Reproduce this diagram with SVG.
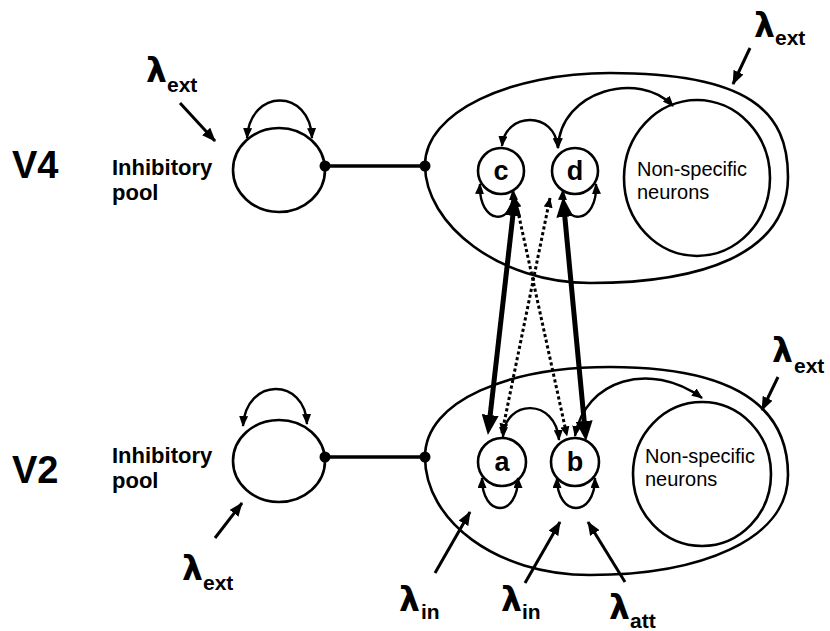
<svg xmlns="http://www.w3.org/2000/svg" width="830" height="631" viewBox="0 0 830 631">
  <defs>
    <style>
      .outline { fill: none; stroke: #000; stroke-width: 2.6; }
      .thin { fill: none; stroke: #000; stroke-width: 2.4; marker-start: url(#ah); marker-end: url(#ah); }
      .thick { fill: none; stroke: #000; stroke-width: 5; marker-start: url(#ahBig); marker-end: url(#ahBig); }
      .dotted { fill: none; stroke: #000; stroke-width: 3; stroke-dasharray: 3.2 2.6; marker-start: url(#ahDot); marker-end: url(#ahDot); }
      .input { fill: none; stroke: #000; stroke-width: 3; marker-end: url(#ahIn); }
      .link { fill: none; stroke: #000; stroke-width: 3.6; }
      .area { font-family: "Liberation Sans", Arial, sans-serif; font-weight: bold; font-size: 38px; }
      .pool { font-family: "Liberation Sans", Arial, sans-serif; font-weight: bold; font-size: 22px; }
      .unit { font-family: "Liberation Sans", Arial, sans-serif; font-weight: bold; font-size: 27px; text-anchor: middle; }
      .ns { font-family: "Liberation Sans", Arial, sans-serif; font-size: 20px; }
      .lam { font-family: "DejaVu Sans", "Liberation Sans", sans-serif; font-weight: bold; font-size: 33px; }
      .sub { font-family: "Liberation Sans", Arial, sans-serif; font-weight: bold; font-size: 21px; }
    </style>
    <marker id="ah" markerUnits="userSpaceOnUse" markerWidth="11" markerHeight="9" refX="10" refY="4.5" orient="auto-start-reverse">
      <path d="M0,0 L11,4.5 L0,9 z" fill="#000"/>
    </marker>
    <marker id="ahBig" markerUnits="userSpaceOnUse" markerWidth="20" markerHeight="17" refX="13" refY="8.5" orient="auto-start-reverse">
      <path d="M0,0 L20,8.5 L0,17 z" fill="#000"/>
    </marker>
    <marker id="ahDot" markerUnits="userSpaceOnUse" markerWidth="10" markerHeight="9" refX="9.5" refY="4.5" orient="auto-start-reverse">
      <path d="M0,0 L10,4.5 L0,9 z" fill="#000"/>
    </marker>
    <marker id="ahIn" markerUnits="userSpaceOnUse" markerWidth="14" markerHeight="11" refX="13" refY="5.5" orient="auto">
      <path d="M0,0 L14,5.5 L0,11 z" fill="#000"/>
    </marker>
  </defs>
  <rect width="830" height="631" fill="#fff"/>

  <!-- area labels -->
  <text class="area" x="12" y="178">V4</text>
  <text class="area" x="12" y="483">V2</text>

  <!-- V4 inhibitory pool -->
  <g id="pool-v4">
    <ellipse class="outline" cx="279" cy="170" rx="46" ry="42"/>
    <text class="pool" x="112" y="175">Inhibitory</text>
    <text class="pool" x="112" y="200">pool</text>
  </g>

  <!-- V2 inhibitory pool -->
  <g id="pool-v2">
    <ellipse class="outline" cx="279" cy="461" rx="46" ry="41"/>
    <text class="pool" x="112" y="463">Inhibitory</text>
    <text class="pool" x="112" y="488">pool</text>
  </g>

  <!-- V4 excitatory area -->
  <g id="area-v4">
    <path class="outline" d="M425,165 C425,112 510,73 610,73 C750,73 788,112 788,177 C788,255 700,283 590,283 C500,283 425,225 425,165 Z"/>
  </g>
  <g id="nonspecific-v4">
    <ellipse class="outline" cx="697" cy="178" rx="73" ry="78"/>
    <text class="ns" x="637" y="176">Non-specific</text>
    <text class="ns" x="637" y="199">neurons</text>
  </g>
  <g id="pool-c">
    <circle class="outline" cx="501" cy="171" r="23"/>
    <text class="unit" x="501" y="180">c</text>
  </g>
  <g id="pool-d">
    <circle class="outline" cx="575" cy="171" r="23"/>
    <text class="unit" x="575" y="180">d</text>
  </g>

  <!-- V2 excitatory area -->
  <g id="area-v2">
    <path class="outline" d="M425,457 C425,400 510,367 610,367 C740,367 788,410 788,475 C788,540 700,575 590,575 C495,575 425,520 425,457 Z"/>
  </g>
  <g id="nonspecific-v2">
    <ellipse class="outline" cx="702" cy="474" rx="69" ry="72"/>
    <text class="ns" x="645" y="463">Non-specific</text>
    <text class="ns" x="645" y="486">neurons</text>
  </g>
  <g id="pool-a">
    <circle class="outline" cx="502" cy="462" r="24"/>
    <text class="unit" x="502" y="471">a</text>
  </g>
  <g id="pool-b">
    <circle class="outline" cx="575" cy="462" r="24"/>
    <text class="unit" x="575" y="471">b</text>
  </g>

  <!-- connectors -->
  <g id="connectors">
    <!-- inhibitory links -->
    <line class="link" x1="325" y1="166" x2="425" y2="166"/>
    <circle cx="325" cy="166" r="5.5"/>
    <circle cx="425" cy="166" r="5.5"/>
    <line class="link" x1="325" y1="457" x2="425" y2="457"/>
    <circle cx="325" cy="457" r="5.5"/>
    <circle cx="425" cy="457" r="5.5"/>

    <!-- pool self-connections -->
    <path class="thin" d="M247,138 C250,88 310,88 312,138"/>
    <path class="thin" d="M243,426 C246,377 305,377 307,424"/>

    <!-- V4 recurrent connections -->
    <path class="thin" d="M502,146 C505,112 555,110 558,148"/>
    <path class="thin" d="M558,148 C560,90 640,70 673,106"/>
    <path class="thin" d="M513,190 C515,228 478,225 480,184"/>
    <path class="thin" d="M563,190 C561,228 598,225 596,184"/>

    <!-- V2 recurrent connections -->
    <path class="thin" d="M503,437 C505,398 556,398 559,440"/>
    <path class="thin" d="M575,436 C585,380 650,360 702,398"/>
    <path class="thin" d="M482,478 C482,518 518,518 518,478"/>
    <path class="thin" d="M557,478 C557,518 595,518 595,478"/>

    <!-- feedforward / feedback between areas -->
    <line class="dotted" x1="515" y1="198" x2="567" y2="436"/>
    <line class="dotted" x1="550" y1="198" x2="502" y2="433"/>
    <line class="thick" x1="514.3" y1="203" x2="488.7" y2="428"/>
    <line class="thick" x1="563.6" y1="204" x2="585.4" y2="434"/>

    <!-- external inputs -->
    <line class="input" x1="180" y1="103" x2="215" y2="141"/>
    <line class="input" x1="215" y1="538" x2="242" y2="503"/>
    <line class="input" x1="750" y1="48" x2="733" y2="84"/>
    <line class="input" x1="778" y1="377" x2="762" y2="410"/>
    <line class="input" x1="435" y1="573" x2="470" y2="512"/>
    <line class="input" x1="525" y1="583" x2="560" y2="522"/>
    <line class="input" x1="625" y1="582" x2="588" y2="522"/>
  </g>

  <!-- input rate labels -->
  <g id="labels">
    <text class="lam" x="146" y="82">λ</text><text class="sub" x="167" y="92">ext</text>
    <text class="lam" x="754" y="37">λ</text><text class="sub" x="775" y="45">ext</text>
    <text class="lam" x="772" y="362">λ</text><text class="sub" x="794" y="373">ext</text>
    <text class="lam" x="182" y="580">λ</text><text class="sub" x="203" y="590">ext</text>
    <text class="lam" x="399" y="611">λ</text><text class="sub" x="421" y="619">in</text>
    <text class="lam" x="501" y="611">λ</text><text class="sub" x="522" y="619">in</text>
    <text class="lam" x="609" y="619">λ</text><text class="sub" x="630" y="628">att</text>
  </g>
</svg>
